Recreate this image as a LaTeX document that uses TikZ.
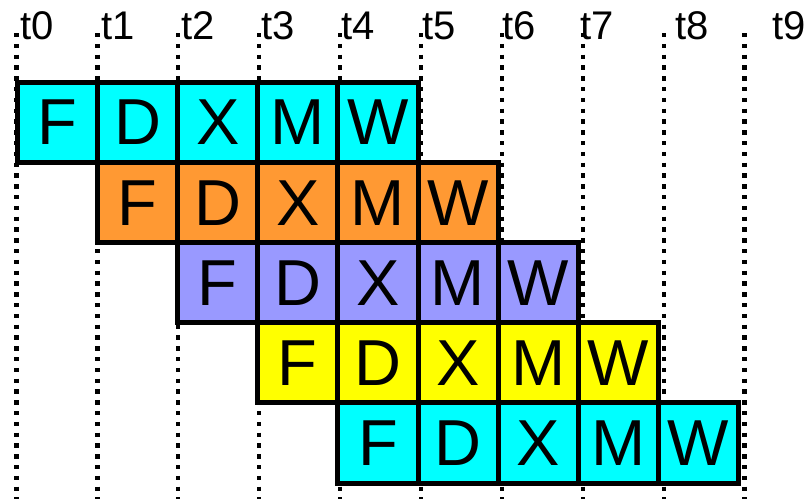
\documentclass[tikz,border=0pt]{standalone}
\usepackage{fontspec}
\setmainfont{Liberation Sans}
\definecolor{cyanc}{RGB}{0,255,255}
\definecolor{orangec}{RGB}{255,153,51}
\definecolor{lavc}{RGB}{153,153,255}
\definecolor{yelc}{RGB}{255,255,0}
\begin{document}
\begin{tikzpicture}[x=1pt,y=-1pt,
  cell/.style={draw=black, line width=5pt, minimum width=80.1pt, minimum height=80.1pt, inner sep=0pt, font=\fontsize{65}{70}\selectfont},
  tick/.style={line width=4.3pt, dash pattern=on 4.3pt off 6.5pt},
  tlabel/.style={anchor=base west, inner sep=0pt, font=\fontsize{40}{44}\selectfont}]
\useasboundingbox (0,0) rectangle (807,499);
% dotted time lines
\foreach \i in {0,...,9}{
  \coordinate (top\i) at ({16.5+80.9*\i},33);
  \coordinate (bot\i) at ({16.5+80.9*\i},499);
  \draw[tick] (top\i) -- (bot\i);
}
% labels
\foreach \i/\x in {0/20,1/101,2/181,3/261,4/341,5/422,6/502,7/580,8/675,9/772}{
  \node[tlabel] (lab\i) at (\x,39) {t\i};
}
% cells
\foreach \r/\col in {0/cyanc,1/orangec,2/lavc,3/yelc,4/cyanc}{
  \foreach \c/\s in {0/F,1/D,2/X,3/M,4/W}{
    \node[cell, fill=\col] (c\r\c) at ({17.5+80.1*(\r+\c)+40.05},{82.5+80.1*\r+40.05}) {\s};
  }
}
\end{tikzpicture}
\end{document}
